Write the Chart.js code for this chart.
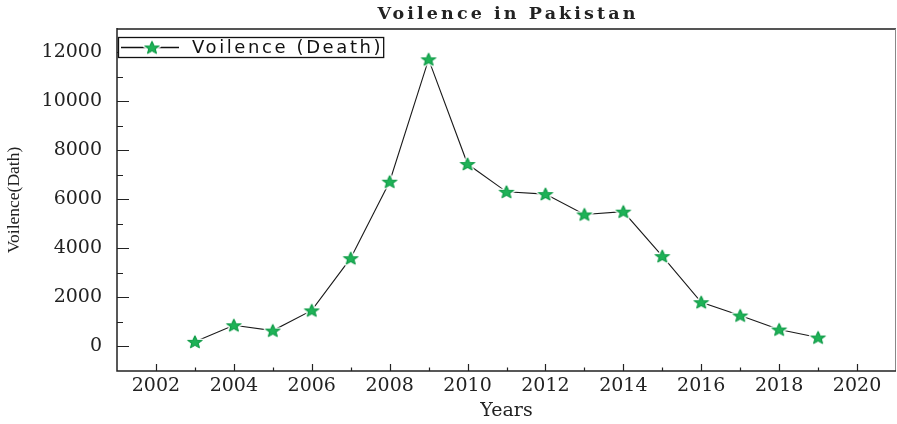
<!DOCTYPE html>
<html><head><meta charset="utf-8">
<script src="https://cdn.jsdelivr.net/npm/chart.js@4.4.0/dist/chart.umd.min.js"></script>
<style>html,body{margin:0;padding:0;background:#fff;overflow:hidden}canvas{display:block}</style>
</head><body>
<canvas id="c" width="897" height="424"></canvas>
<script>
// ---- data ----
const years = [2003,2004,2005,2006,2007,2008,2009,2010,2011,2012,2013,2014,2015,2016,2017,2018,2019];
const deaths = [189,863,648,1471,3598,6715,11704,7435,6303,6211,5379,5496,3682,1803,1260,691,365];
const xTickYears = [2002,2004,2006,2008,2010,2012,2014,2016,2018,2020];
const yTickValues = [0,2000,4000,6000,8000,10000,12000];
const chartTitle = 'Voilence in Pakistan';
const seriesLabel = 'Voilence (Death)';
const xAxisTitle = 'Years';
const yAxisTitle = 'Voilence(Dath)';

// ---- star marker ----
function makeStar(){
  const c = document.createElement('canvas');
  c.width = 22; c.height = 20;
  const g = c.getContext('2d');
  g.translate(11,10.5); g.scale(1.15,1);
  g.beginPath();
  for(let i=0;i<10;i++){
    const r = i%2===0 ? 6.6 : 2.9;
    const a = -Math.PI/2 + i*Math.PI/5;
    g.lineTo(r*Math.cos(a), r*Math.sin(a));
  }
  g.closePath();
  g.lineJoin='round';
  g.strokeStyle='#ffffff'; g.lineWidth=3.5; g.stroke();
  g.fillStyle='#1fb257'; g.fill();
  g.strokeStyle='#0c9a45'; g.lineWidth=1; g.stroke();
  return c;
}
const star = makeStar();

const decoPlugin = {
  id:'deco',
  beforeDraw(chart){
    const ctx=chart.ctx; ctx.save(); ctx.fillStyle='#fff'; ctx.fillRect(0,0,chart.width,chart.height); ctx.restore();
  },
  afterDraw(chart){
    const ctx = chart.ctx, ca = chart.chartArea;
    const xs = chart.scales.x, ys = chart.scales.y;
    ctx.save();
    // frame
    ctx.lineCap='butt';
    ctx.strokeStyle='#555'; ctx.lineWidth=2;
    ctx.beginPath(); ctx.moveTo(ca.left, ca.top); ctx.lineTo(ca.right, ca.top); ctx.stroke();
    ctx.strokeStyle='#888'; ctx.lineWidth=1;
    ctx.beginPath(); ctx.moveTo(ca.right-0.5, ca.top); ctx.lineTo(ca.right-0.5, ca.bottom); ctx.stroke();
    ctx.strokeStyle='#222'; ctx.lineWidth=1.5;
    ctx.beginPath(); ctx.moveTo(ca.left, ca.top-1); ctx.lineTo(ca.left, ca.bottom); ctx.lineTo(ca.right, ca.bottom); ctx.stroke();
    // inward ticks
    ctx.lineWidth=1.2; ctx.strokeStyle='#222';
    const xMinor = xTickYears.slice(0,-1).map(v=>v+1);
    const yMinor = yTickValues.slice(0,-1).map(v=>v+1000);
    ctx.beginPath();
    xTickYears.forEach(v=>{const p=Math.round(xs.getPixelForValue(v))+0.5; ctx.moveTo(p,ca.bottom); ctx.lineTo(p,ca.bottom-7);});
    xMinor.forEach(v=>{const p=Math.round(xs.getPixelForValue(v))+0.5; ctx.moveTo(p,ca.bottom); ctx.lineTo(p,ca.bottom-3.5);});
    yTickValues.forEach(v=>{const p=Math.round(ys.getPixelForValue(v))+0.5; ctx.moveTo(ca.left,p); ctx.lineTo(ca.left+12,p);});
    yMinor.forEach(v=>{const p=Math.round(ys.getPixelForValue(v))+0.5; ctx.moveTo(ca.left,p); ctx.lineTo(ca.left+6,p);});
    ctx.stroke();
    // title
    ctx.fillStyle='#222';
    ctx.font='bold 17.5px "DejaVu Serif"';
    ctx.letterSpacing='3.1px';
    ctx.textAlign='center'; ctx.textBaseline='alphabetic';
    ctx.fillText(chartTitle, (ca.left+ca.right)/2+1.5, 18.5);
    // legend
    ctx.font='18px "DejaVu Sans"';
    ctx.letterSpacing='2.6px';
    ctx.textAlign='left';
    const tw = ctx.measureText(seriesLabel).width;
    const lx = ca.left+1, ly = 37, lh = 20;
    const bw = 74 + tw;
    ctx.fillStyle='#fff'; ctx.fillRect(lx, ly, bw, lh);
    ctx.strokeStyle='#111'; ctx.lineWidth=1.3;
    ctx.strokeRect(lx+0.5, ly+0.5, bw, lh);
    ctx.lineWidth=1.3;
    ctx.beginPath(); ctx.moveTo(lx+3, ly+lh/2+0.5); ctx.lineTo(lx+61, ly+lh/2+0.5); ctx.stroke();
    ctx.drawImage(star, lx+34-star.width/2, ly+lh/2+0.5-star.height/2);
    ctx.fillStyle='#111';
    ctx.fillText(seriesLabel, lx+74, ly+16);
    ctx.restore();
  }
};

new Chart(document.getElementById('c'), {
  type:'line',
  data:{ datasets:[{
    label: seriesLabel,
    data: years.map((y,i)=>({x:y, y:deaths[i]})),
    borderColor:'#1a1a1a', borderWidth:1.1, tension:0,
    pointStyle: star, pointRadius:7, pointHoverRadius:7,
    fill:false
  }]},
  options:{
    responsive:false, animation:false, devicePixelRatio:1,
    layout:{ autoPadding:false, padding:{ top:29, right:1, left:0, bottom:0 } },
    plugins:{ legend:{display:false}, title:{display:false}, tooltip:{enabled:false} },
    scales:{
      x:{ type:'linear', min:2001, max:2021,
        afterBuildTicks(s){ s.ticks = xTickYears.map(v=>({value:v})); },
        afterFit(s){ s.height = 53; s.paddingRight = 0; s.paddingLeft = 0; },
        grid:{display:false, drawTicks:false}, border:{display:false},
        ticks:{ color:'#222', padding:4, font:{family:'"DejaVu Serif"', size:19}, callback:v=>String(v), maxRotation:0, autoSkip:false },
        title:{ display:true, text:xAxisTitle, color:'#222', font:{family:'"DejaVu Serif"', size:19}, padding:{top:0,bottom:2} }
      },
      y:{ type:'linear', min:-1000, max:12940,
        afterBuildTicks(s){ s.ticks = yTickValues.map(v=>({value:v})); },
        afterFit(s){ s.width = 117; s.paddingTop = 0; s.paddingBottom = 0; },
        grid:{display:false, drawTicks:false}, border:{display:false},
        ticks:{ color:'#222', padding:15, font:{family:'"DejaVu Serif"', size:19}, callback:v=>String(v), autoSkip:false },
        title:{ display:true, text:yAxisTitle, color:'#222', font:{family:'"Liberation Serif"', size:17.5}, padding:{top:4,bottom:0} }
      }
    }
  },
  plugins:[decoPlugin]
});
</script>
</body></html>
